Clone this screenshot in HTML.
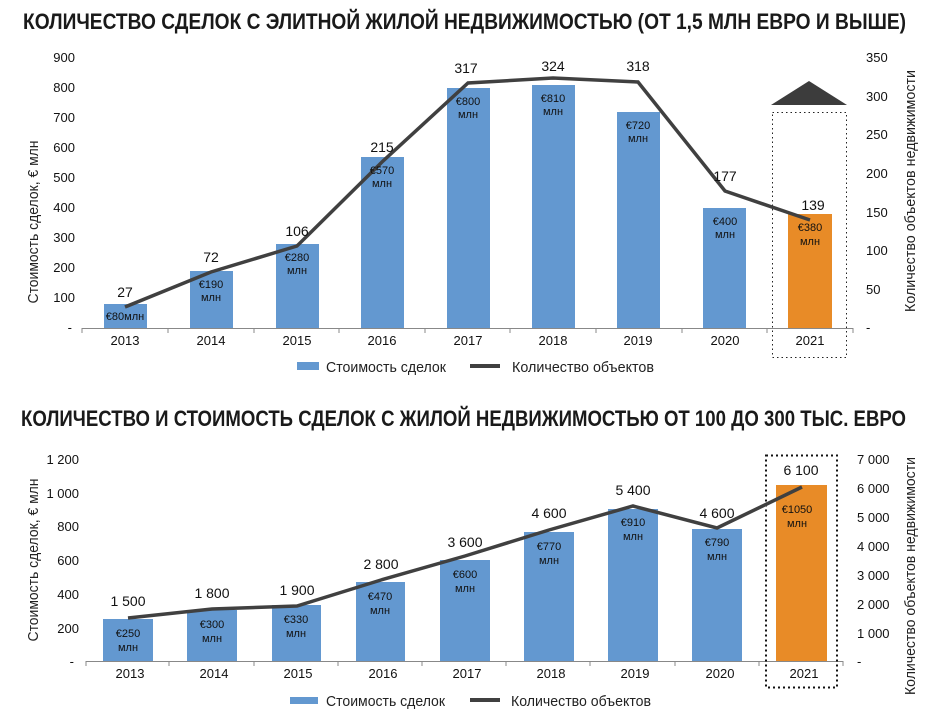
<!DOCTYPE html>
<html><head><meta charset="utf-8"><style>
html,body{margin:0;padding:0;background:#fff}
svg{display:block}
text{font-family:"Liberation Sans",sans-serif;fill:#111}
.t{font-family:"Liberation Sans Narrow","Liberation Sans",sans-serif;font-weight:bold;font-size:22px;fill:#1a1a1a}
.tk{font-size:13px}
.yr{font-size:13px;text-anchor:middle}
.v{font-size:14px;text-anchor:middle}
.b{font-size:11px;fill:#fff;text-anchor:middle}
.bo{font-size:11px;fill:#222;text-anchor:middle}
.ax{font-family:"Liberation Sans Narrow","Liberation Sans",sans-serif;font-size:15px;fill:#222}
.lg{font-family:"Liberation Sans Narrow","Liberation Sans",sans-serif;font-size:15px;fill:#222}
</style></head><body>
<svg width="941" height="721" viewBox="0 0 941 721" xmlns="http://www.w3.org/2000/svg">
<!-- Chart 1 -->
<text class="t" x="23" y="29" textLength="883" lengthAdjust="spacingAndGlyphs">КОЛИЧЕСТВО СДЕЛОК С ЭЛИТНОЙ ЖИЛОЙ НЕДВИЖИМОСТЬЮ (ОТ 1,5 МЛН ЕВРО И ВЫШЕ)</text>
<g class="tk" text-anchor="end">
<text x="75" y="62">900</text><text x="75" y="92">800</text><text x="75" y="122">700</text><text x="75" y="152">600</text><text x="75" y="182">500</text><text x="75" y="212">400</text><text x="75" y="242">300</text><text x="75" y="272">200</text><text x="75" y="302">100</text><text x="72" y="332">-</text>
</g>
<g class="tk">
<text x="866" y="62">350</text><text x="866" y="101">300</text><text x="866" y="139">250</text><text x="866" y="178">200</text><text x="866" y="217">150</text><text x="866" y="255">100</text><text x="866" y="294">50</text><text x="866" y="332">-</text>
</g>
<text class="ax" transform="translate(38,222) rotate(-90)" text-anchor="middle" textLength="163" lengthAdjust="spacingAndGlyphs">Стоимость сделок, € млн</text>
<text class="ax" transform="translate(915,191) rotate(-90)" text-anchor="middle" textLength="242" lengthAdjust="spacingAndGlyphs">Количество объектов недвижимости</text>
<g fill="#6398d0">
<rect x="104" y="304" width="43" height="24"/><rect x="190" y="271" width="43" height="57"/><rect x="276" y="244" width="43" height="84"/><rect x="361" y="157" width="43" height="171"/><rect x="447" y="88" width="43" height="240"/><rect x="532" y="85" width="43" height="243"/><rect x="617" y="112" width="43" height="216"/><rect x="703" y="208" width="43" height="120"/>
</g>
<rect x="788" y="214" width="44" height="114" fill="#e88b27"/>
<line x1="82" y1="328.5" x2="853" y2="328.5" stroke="#888"/>
<g stroke="#888"><line x1="82" y1="328" x2="82" y2="333"/><line x1="168" y1="328" x2="168" y2="333"/><line x1="254" y1="328" x2="254" y2="333"/><line x1="339" y1="328" x2="339" y2="333"/><line x1="425" y1="328" x2="425" y2="333"/><line x1="510" y1="328" x2="510" y2="333"/><line x1="596" y1="328" x2="596" y2="333"/><line x1="682" y1="328" x2="682" y2="333"/><line x1="767" y1="328" x2="767" y2="333"/><line x1="853" y1="328" x2="853" y2="333"/></g>
<rect x="772.5" y="112.5" width="74" height="245" fill="none" stroke="#222" stroke-dasharray="1.5,3"/>
<polygon points="771,105 847,105 809,81" fill="#3c3c3c"/>
<polyline points="125,307 211,272 297,246 382,162 468,83 553,78 638,82 725,191 810,220" fill="none" stroke="#404040" stroke-width="3.5"/>
<g class="yr"><text x="125" y="345">2013</text><text x="211" y="345">2014</text><text x="297" y="345">2015</text><text x="382" y="345">2016</text><text x="468" y="345">2017</text><text x="553" y="345">2018</text><text x="638" y="345">2019</text><text x="725" y="345">2020</text><text x="810" y="345">2021</text></g>
<g class="v"><text x="125" y="297">27</text><text x="211" y="262">72</text><text x="297" y="236">106</text><text x="382" y="152">215</text><text x="466" y="73">317</text><text x="553" y="71">324</text><text x="638" y="71">318</text><text x="725" y="181">177</text><text x="813" y="210">139</text></g>
<g class="b"><text x="125" y="320">€80млн</text>
<text x="211" y="288">€190</text><text x="211" y="301">млн</text>
<text x="297" y="261">€280</text><text x="297" y="274">млн</text>
<text x="382" y="174">€570</text><text x="382" y="187">млн</text>
<text x="468" y="105">€800</text><text x="468" y="118">млн</text>
<text x="553" y="102">€810</text><text x="553" y="115">млн</text>
<text x="638" y="129">€720</text><text x="638" y="142">млн</text>
<text x="725" y="225">€400</text><text x="725" y="238">млн</text></g>
<g class="bo"><text x="810" y="231">€380</text><text x="810" y="245">млн</text></g>
<rect x="297" y="362" width="22" height="8" fill="#6398d0"/>
<text class="lg" x="326" y="372" textLength="120" lengthAdjust="spacingAndGlyphs">Стоимость сделок</text>
<line x1="470" y1="366" x2="500" y2="366" stroke="#404040" stroke-width="4"/>
<text class="lg" x="512" y="372" textLength="142" lengthAdjust="spacingAndGlyphs">Количество объектов</text>

<!-- Chart 2 -->
<text class="t" x="21" y="426" textLength="885" lengthAdjust="spacingAndGlyphs">КОЛИЧЕСТВО И СТОИМОСТЬ СДЕЛОК С ЖИЛОЙ НЕДВИЖИМОСТЬЮ ОТ 100 ДО 300 ТЫС. ЕВРО</text>
<g class="tk" text-anchor="end">
<text x="79" y="464">1 200</text><text x="79" y="498">1 000</text><text x="79" y="531">800</text><text x="79" y="565">600</text><text x="79" y="599">400</text><text x="79" y="633">200</text><text x="74" y="666">-</text>
</g>
<g class="tk">
<text x="857" y="464">7 000</text><text x="857" y="493">6 000</text><text x="857" y="522">5 000</text><text x="857" y="551">4 000</text><text x="857" y="580">3 000</text><text x="857" y="609">2 000</text><text x="857" y="638">1 000</text><text x="857" y="666">-</text>
</g>
<text class="ax" transform="translate(38,560) rotate(-90)" text-anchor="middle" textLength="163" lengthAdjust="spacingAndGlyphs">Стоимость сделок, € млн</text>
<text class="ax" transform="translate(915,576) rotate(-90)" text-anchor="middle" textLength="238" lengthAdjust="spacingAndGlyphs">Количество объектов недвижимости</text>
<g fill="#6398d0">
<rect x="103" y="619" width="50" height="42"/><rect x="187" y="610" width="50" height="51"/><rect x="272" y="605" width="49" height="56"/><rect x="356" y="582" width="49" height="79"/><rect x="440" y="560" width="50" height="101"/><rect x="524" y="532" width="50" height="129"/><rect x="608" y="509" width="50" height="152"/><rect x="692" y="529" width="50" height="132"/>
</g>
<rect x="776" y="485" width="51" height="176" fill="#e88b27"/>
<line x1="86" y1="661.5" x2="843" y2="661.5" stroke="#888"/>
<g stroke="#888"><line x1="86" y1="661" x2="86" y2="666"/><line x1="169" y1="661" x2="169" y2="666"/><line x1="254" y1="661" x2="254" y2="666"/><line x1="338" y1="661" x2="338" y2="666"/><line x1="422" y1="661" x2="422" y2="666"/><line x1="506" y1="661" x2="506" y2="666"/><line x1="590" y1="661" x2="590" y2="666"/><line x1="675" y1="661" x2="675" y2="666"/><line x1="759" y1="661" x2="759" y2="666"/><line x1="843" y1="661" x2="843" y2="666"/></g>
<rect x="766" y="455.5" width="71" height="232" fill="none" stroke="#111" stroke-width="2" stroke-dasharray="2,3"/>
<polyline points="128,618 212,609 297,606 381,580 465,556 549,530 633,506 717,528 802,487" fill="none" stroke="#404040" stroke-width="3.5"/>
<g class="yr"><text x="130" y="678">2013</text><text x="214" y="678">2014</text><text x="298" y="678">2015</text><text x="383" y="678">2016</text><text x="467" y="678">2017</text><text x="551" y="678">2018</text><text x="635" y="678">2019</text><text x="720" y="678">2020</text><text x="804" y="678">2021</text></g>
<g class="v"><text x="128" y="606">1 500</text><text x="212" y="598">1 800</text><text x="297" y="595">1 900</text><text x="381" y="569">2 800</text><text x="465" y="547">3 600</text><text x="549" y="518">4 600</text><text x="633" y="495">5 400</text><text x="717" y="518">4 600</text><text x="801" y="475">6 100</text></g>
<g class="b"><text x="128" y="637">€250</text><text x="128" y="651">млн</text>
<text x="212" y="628">€300</text><text x="212" y="642">млн</text>
<text x="296" y="623">€330</text><text x="296" y="637">млн</text>
<text x="380" y="600">€470</text><text x="380" y="614">млн</text>
<text x="465" y="578">€600</text><text x="465" y="592">млн</text>
<text x="549" y="550">€770</text><text x="549" y="564">млн</text>
<text x="633" y="526">€910</text><text x="633" y="540">млн</text>
<text x="717" y="546">€790</text><text x="717" y="560">млн</text></g>
<g class="bo"><text x="797" y="513">€1050</text><text x="797" y="527">млн</text></g>
<rect x="290" y="697" width="28" height="7" fill="#6398d0"/>
<text class="lg" x="326" y="706" textLength="119" lengthAdjust="spacingAndGlyphs">Стоимость сделок</text>
<line x1="470" y1="700" x2="500" y2="700" stroke="#404040" stroke-width="4"/>
<text class="lg" x="511" y="706" textLength="140" lengthAdjust="spacingAndGlyphs">Количество объектов</text>
</svg>
</body></html>
